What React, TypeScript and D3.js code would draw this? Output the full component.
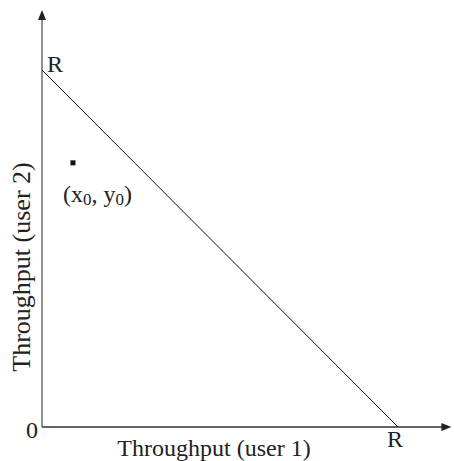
import React from "react";
import * as d3 from "d3";

const rateR = [1];
const pointX0 = [0.087];
const pointY0 = [0.74];
const axisMax = [1.15, 1.168];
const xTitle = "Throughput (user 1)";
const yTitle = "Throughput (user 2)";

export default function App() {
  const W = 454, H = 461;
  const ox = 42, oy = 427;
  const x = d3.scaleLinear().domain([0, 1]).range([ox, 398]);
  const y = d3.scaleLinear().domain([0, 1]).range([oy, 70]);
  const R = rateR[0];
  const font = "'Liberation Serif', 'Times New Roman', serif";
  const line = d3.line<[number, number]>().x(d => x(d[0])).y(d => y(d[1]));
  const xEnd = x(axisMax[0]);
  const yEnd = y(axisMax[1]);
  const fs = 24;
  return (
    <svg width={W} height={H} style={{ position: "absolute", left: 0, top: 0 }}>
      <rect width={W} height={H} fill="#fff" />
      {/* axes */}
      <line x1={ox} y1={oy} x2={ox} y2={yEnd + 6} stroke="#555" strokeWidth={1.3} />
      <path d={`M${ox},${yEnd} L${ox - 4},${yEnd + 10} L${ox + 4},${yEnd + 10} Z`} fill="#222" />
      <line x1={ox} y1={oy} x2={xEnd - 6} y2={oy} stroke="#333" strokeWidth={1.3} />
      <path d={`M${xEnd},${oy} L${xEnd - 10},${oy - 4} L${xEnd - 10},${oy + 4} Z`} fill="#222" />
      {/* rate line */}
      <path d={line([[0, R], [R, 0]]) || ""} stroke="#111" strokeWidth={1} fill="none" />
      {/* point */}
      {pointX0.map((px, i) => (
        <rect key={i} x={x(px) - 2.5} y={y(pointY0[i]) - 2.5} width={5} height={5} fill="#111" />
      ))}
      <text x={63} y={y(pointY0[0]) + 39} fontFamily={font} fontSize={fs} fill="#222">
        (x<tspan fontSize={17} dy={3}>0</tspan><tspan dy={-3}>, y</tspan><tspan fontSize={17} dy={3}>0</tspan><tspan dy={-3}>)</tspan>
      </text>
      {/* labels */}
      <text x={ox + 5} y={y(R) + 2} fontFamily={font} fontSize={fs} fill="#222">R</text>
      <text x={x(R) - 3} y={oy + 20} fontFamily={font} fontSize={fs} fill="#222" textAnchor="middle">R</text>
      <text x={ox - 4} y={oy + 11} fontFamily={font} fontSize={fs} fill="#222" textAnchor="end">0</text>
      <text x={214} y={H - 5} fontFamily={font} fontSize={fs} fill="#222" textAnchor="middle">{xTitle}</text>
      <text transform={`translate(30, 267) rotate(-90)`} fontFamily={font} fontSize={26} fill="#222" textAnchor="middle">{yTitle}</text>
    </svg>
  );
}
